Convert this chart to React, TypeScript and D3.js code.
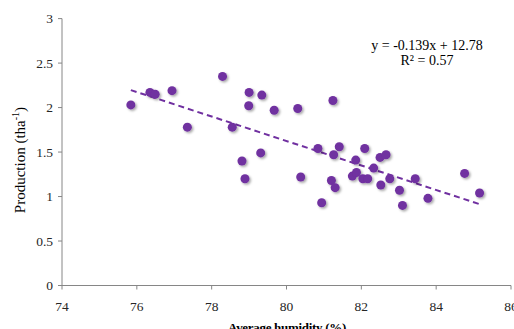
import * as d3 from "d3";
import React, { useRef, useEffect } from "react";

// humidity (%) vs production (t/ha)
const humidity = [
  75.84, 76.35, 76.49, 76.94, 77.35, 78.29, 78.55, 78.81, 78.89, 79.0,
  78.99, 79.34, 79.67, 80.3, 81.24, 79.31, 80.38, 80.84, 81.26, 81.41,
  81.2, 81.3, 80.94, 81.85, 82.09, 81.76, 81.87, 82.04, 82.17, 82.5,
  82.66, 82.33, 82.76, 82.52, 83.44, 83.02, 83.78, 83.1, 84.76, 85.16,
];
const production = [
  2.03, 2.17, 2.15, 2.19, 1.78, 2.35, 1.78, 1.4, 1.2, 2.17,
  2.02, 2.14, 1.97, 1.99, 2.08, 1.49, 1.22, 1.54, 1.47, 1.56,
  1.18, 1.1, 0.93, 1.41, 1.54, 1.23, 1.27, 1.2, 1.2, 1.44,
  1.47, 1.32, 1.2, 1.13, 1.2, 1.07, 0.98, 0.9, 1.26, 1.04,
];
const xTicks = [74, 76, 78, 80, 82, 84, 86];
const yTicks = [0, 0.5, 1, 1.5, 2, 2.5, 3];
const equationLines = ["y = -0.139x + 12.78", "R² = 0.57"];

const App: React.FC = () => {
  const svgRef = useRef<SVGSVGElement | null>(null);

  useEffect(() => {
    const width = 514;
    const height = 329;
    const left = 62;
    const right = 511;
    const top = 18.6;
    const bottom = 285.5;
    const purple = "#7030a0";
    const axisColor = "#868686";
    const font = "'Liberation Serif', 'Times New Roman', serif";

    const x = d3.scaleLinear().domain([74, 86]).range([left, right]);
    const y = d3.scaleLinear().domain([0, 3]).range([bottom, top]);

    const svg = d3.select(svgRef.current)
      .attr("width", width)
      .attr("height", height)
      .html("");

    const defs = svg.append("defs");
    const filter = defs.append("filter").attr("id", "shadow")
      .attr("x", "-50%").attr("y", "-50%").attr("width", "200%").attr("height", "200%");
    filter.append("feDropShadow")
      .attr("dx", 1.5).attr("dy", 1.5).attr("stdDeviation", 1)
      .attr("flood-color", "#000").attr("flood-opacity", 0.35);

    // axes
    svg.append("line")
      .attr("x1", left).attr("x2", left).attr("y1", y(3)).attr("y2", bottom)
      .attr("stroke", axisColor);
    svg.append("line")
      .attr("x1", left).attr("x2", right).attr("y1", bottom).attr("y2", bottom)
      .attr("stroke", axisColor);

    svg.selectAll(".ytick")
      .data(yTicks)
      .enter()
      .append("line")
      .attr("x1", left - 4).attr("x2", left)
      .attr("y1", d => y(d)).attr("y2", d => y(d))
      .attr("stroke", axisColor);
    svg.selectAll(".ylabel")
      .data(yTicks)
      .enter()
      .append("text")
      .attr("x", left - 9)
      .attr("y", d => y(d) + 4.5)
      .attr("text-anchor", "end")
      .style("font-family", font)
      .style("font-size", "13.5px")
      .style("fill", "#262626")
      .text(d => String(d));

    svg.selectAll(".xtick")
      .data(xTicks)
      .enter()
      .append("line")
      .attr("x1", d => x(d)).attr("x2", d => x(d))
      .attr("y1", bottom).attr("y2", bottom + 4)
      .attr("stroke", axisColor);
    svg.selectAll(".xlabel")
      .data(xTicks)
      .enter()
      .append("text")
      .attr("x", d => x(d))
      .attr("y", 310.5)
      .attr("text-anchor", "middle")
      .style("font-family", font)
      .style("font-size", "13.5px")
      .style("fill", "#262626")
      .text(d => String(d));

    // titles
    svg.append("text")
      .attr("x", 287)
      .attr("y", 332)
      .attr("text-anchor", "middle")
      .style("font-family", font)
      .style("font-size", "13px")
      .style("font-weight", "bold")
      .style("letter-spacing", "-0.3px")
      .text("Average humidity (%)");

    const yt = svg.append("text")
      .attr("transform", `translate(25,${(bottom + top) / 2 + 8}) rotate(-90)`)
      .attr("text-anchor", "middle")
      .style("font-family", font)
      .style("font-size", "15px");
    yt.append("tspan").text("Production (tha");
    yt.append("tspan").attr("dy", -6).style("font-size", "10px").text("-1");
    yt.append("tspan").attr("dy", 6).text(")");

    // trend line (least squares on the points)
    const mx = d3.mean(humidity)!;
    const my = d3.mean(production)!;
    const sxy = d3.sum(humidity, (h, i) => (h - mx) * (production[i] - my));
    const sxx = d3.sum(humidity, h => (h - mx) ** 2);
    const slope = sxy / sxx;
    const intercept = my - slope * mx;
    const [x0, x1] = d3.extent(humidity) as [number, number];
    svg.append("line")
      .attr("x1", x(x0)).attr("y1", y(slope * x0 + intercept))
      .attr("x2", x(x1)).attr("y2", y(slope * x1 + intercept))
      .attr("stroke", purple)
      .attr("stroke-width", 2)
      .attr("stroke-dasharray", "6,4");

    // points
    svg.append("g")
      .attr("filter", "url(#shadow)")
      .selectAll("circle")
      .data(humidity)
      .enter()
      .append("circle")
      .attr("cx", d => x(d))
      .attr("cy", (d, i) => y(production[i]))
      .attr("r", 4.5)
      .attr("fill", purple);

    // equation
    svg.selectAll(".eq")
      .data(equationLines)
      .enter()
      .append("text")
      .attr("x", 427)
      .attr("y", (d, i) => 50 + i * 14.5)
      .attr("text-anchor", "middle")
      .style("font-family", font)
      .style("font-size", "14px")
      .style("fill", "#000")
      .text(d => d);
  }, []);

  return <svg ref={svgRef} style={{ position: "absolute", left: 0, top: 0 }}></svg>;
};

export default App;
